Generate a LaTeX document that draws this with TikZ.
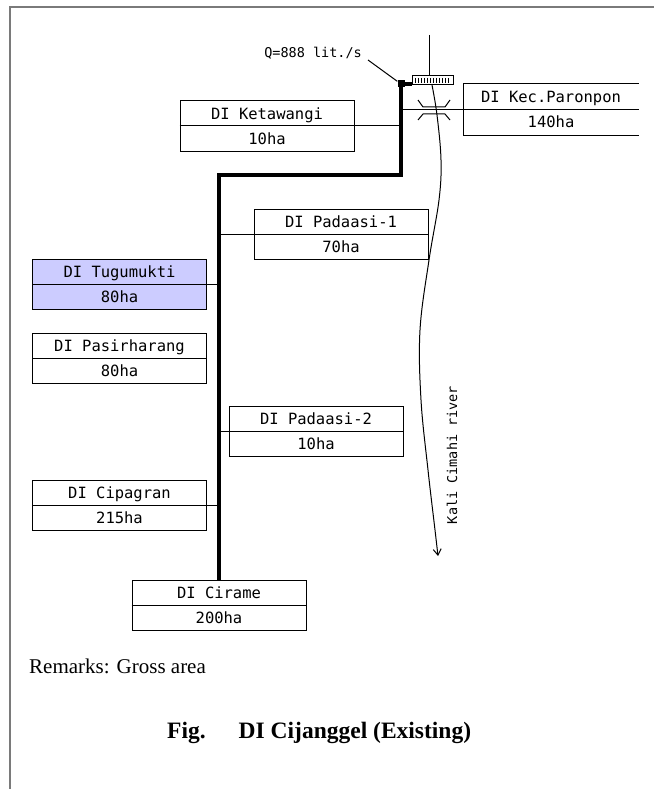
\documentclass[tikz,border=0pt]{standalone}
\usepackage{fontspec}
\setmainfont{Liberation Serif}
\newfontfamily\boxfont{DejaVu Sans Mono}
\usetikzlibrary{arrows.meta,positioning}
\definecolor{AreaBlue}{HTML}{CCCCFF}
\definecolor{FrameGray}{HTML}{7A7A7A}

\begin{document}
\begin{tikzpicture}[x=1pt,y=-1pt,
  area/.style={draw,line width=1pt,minimum width=174pt,minimum height=50pt,inner sep=0pt,align=center,font=\boxfont\fontsize{15.5}{25}\selectfont},
  canal/.style={line width=3.5pt},
  branch/.style={line width=1pt}]
  \useasboundingbox (0,0) rectangle (654,789);
  \draw[FrameGray,line width=1.5pt] (10,789) -- (10,7) -- (654,7);
  % irrigation areas
  \node[area] (ket) at (267,126) {DI Ketawangi\\10ha};
  \node[area,draw=none] (par) at (551,109.5) {DI Kec.Paronpon\\140ha};
  \node[area] (pd1) at (341,234) {DI Padaasi-1\\70ha};
  \node[area,fill=AreaBlue] (tug) at (119.5,284) {DI Tugumukti\\80ha};
  \node[area] (pas) at (119.5,358) {DI Pasirharang\\80ha};
  \node[area] (pd2) at (316,431.5) {DI Padaasi-2\\10ha};
  \node[area] (cip) at (119.5,505) {DI Cipagran\\215ha};
  \node[area] (cir) at (219,605) {DI Cirame\\200ha};
  \draw[branch] (par.north east) -- (par.north west) -- (par.south west) -- (par.south east);
  \foreach \n in {ket,par,pd1,tug,pas,pd2,cip,cir}
    \draw[branch] (\n.west) -- (\n.east);
  % intake and main canal
  \node[fill,minimum size=7pt,inner sep=0pt] (junc) at (401,84) {};
  \node[draw,line width=1pt,minimum width=41pt,minimum height=9pt,inner sep=0pt] (grate) at (432.5,80.5) {};
  \foreach \x in {415,418,...,450}
    \draw[line width=0.6pt] (\x,78) -- (\x,83);
  \coordinate (bend) at (219,175);
  \coordinate (elbow) at (401,175);
  \draw[canal] (cir.north) -- (bend) -- (elbow) -- (junc.center) -- (junc.center -| grate.west);
  \draw[branch] (ket.east) -- (ket.east -| junc);
  \draw[branch] (par.west) -- (par.west -| junc);
  \draw[branch] (pd1.west) -- (pd1.west -| bend);
  \draw[branch] (tug.east) -- (tug.east -| bend);
  \draw[branch] (pd2.west) -- (pd2.west -| bend);
  \draw[branch] (cip.east) -- (cip.east -| bend);
  % discharge
  \node[anchor=base east,inner sep=0pt,font=\boxfont\fontsize{13.5}{14}\selectfont] (q) at (362,58) {Q=888 lit./s};
  \coordinate (qtip) at (368,60);
  \draw[branch] (qtip) -- (junc);
  % river
  \coordinate (src) at (429,35);
  \draw[branch] (src) -- (src |- grate.north);
  \draw[branch,-{Straight Barb[length=6pt,width=8pt]}] plot[smooth,tension=0.6] coordinates {(432,85) (437,115) (441,160) (439,200) (429,260) (420,330) (421,400) (428,470) (435,530) (438,556)};
  \draw[branch] (418,100) -- (423,107) -- (445,107) -- (450,100);
  \draw[branch] (418,120) -- (423,114) -- (445,114) -- (450,120);
  \node[rotate=90,font=\boxfont\fontsize{13.5}{14}\selectfont] (riv) at (452,455) {Kali Cimahi river};
  % notes
  \node[anchor=base west,inner sep=0pt,font=\fontsize{21}{24}\selectfont] (rem) at (29,673) {Remarks: Gross area};
  \node[anchor=base west,inner sep=0pt,font=\bfseries\fontsize{23.5}{28}\selectfont] (fig) at (167,738) {Fig.\hspace{33pt}DI Cijanggel (Existing)};
\end{tikzpicture}
\end{document}
